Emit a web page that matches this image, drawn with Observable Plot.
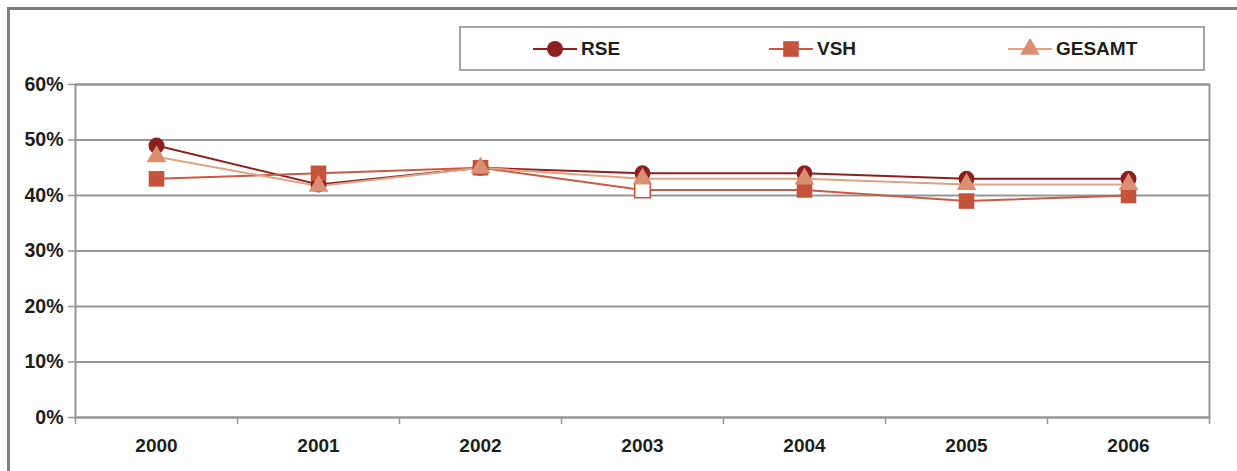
<!DOCTYPE html>
<html>
<head>
<meta charset="utf-8">
<script src="https://cdn.jsdelivr.net/npm/d3@7"></script>
<script src="https://cdn.jsdelivr.net/npm/@observablehq/plot@0.6"></script>
<style>
  body { margin: 0; background: #fff; font-family: "Liberation Sans", Arial, sans-serif; }
  #wrap { position: relative; width: 1237px; height: 471px; overflow: hidden; }
  #border { position: absolute; left: 7px; top: 7px; width: 1300px; height: 600px;
            border-left: 3px solid #7f7f7f; border-top: 3px solid #7f7f7f; pointer-events: none; z-index: 2; }
  #header { position: relative; height: 70px; }
  #legend { position: absolute; left: 459px; top: 26px; width: 746px; height: 45px; box-sizing: border-box;
            border: 2px solid #a6a6a6; }
  .item { position: absolute; top: 0; height: 41px; display: flex; align-items: center; }
  .item span { font-weight: bold; font-size: 19px; color: #1e1e1e; margin-left: 4px; }
  #chart svg { display: block; }
</style>
</head>
<body>
<div id="wrap">
  <div id="border"></div>
  <div id="header"><div id="legend"></div></div>
  <div id="chart"></div>
</div>
<script>
// ---- data ----
const years = [2000, 2001, 2002, 2003, 2004, 2005, 2006];
const seriesNames = ["RSE", "VSH", "GESAMT"];
const rse    = [0.49, 0.42, 0.45, 0.44, 0.44, 0.43, 0.43];
const vsh    = [0.43, 0.44, 0.45, 0.41, 0.41, 0.39, 0.40];
const gesamt = [0.47, 0.417, 0.45, 0.43, 0.43, 0.42, 0.42];
const yTicks = [0, 0.1, 0.2, 0.3, 0.4, 0.5, 0.6];

// ---- styles ----
const styles = {
  RSE:    {marker: "#8e1f1f", line: "#8e1f1f", symbol: "circle",   r: 8},
  VSH:    {marker: "#c5523b", line: "#c95a43", symbol: "square",   r: 8.8},
  GESAMT: {marker: "#da8f72", line: "#e2a183", symbol: "triangle", r: 7.3}
};
const hollowVSHYear = 2003;

const valuesBySeries = {RSE: rse, VSH: vsh, GESAMT: gesamt};
const rows = seriesNames.flatMap(s => years.map((y, i) => ({series: s, year: y, value: valuesBySeries[s][i]})));

const bounds = [...years.map(y => y - 0.5), years[years.length - 1] + 0.5];
const gray = "#969696";

const marks = [
  Plot.gridY(yTicks, {stroke: gray, strokeOpacity: 1, strokeWidth: 2}),
  Plot.frame({stroke: gray, strokeWidth: 2}),
  Plot.axisY(yTicks, {tickFormat: d => Math.round(d * 100) + "%", tickSize: 7, tickPadding: 5,
    stroke: gray, strokeWidth: 1.5, fontSize: 19.5, fontWeight: "bold", fill: "#1e1e1e", label: null}),
  Plot.axisX(bounds, {tickFormat: () => "", tickSize: 7, stroke: gray, strokeWidth: 1.5, label: null}),
  Plot.axisX(years, {tickSize: 0, tickPadding: 21, tickFormat: d => String(d),
    fontSize: 19, fontWeight: "bold", fill: "#1e1e1e", label: null})
];
for (const s of seriesNames) {
  marks.push(Plot.line(rows.filter(d => d.series === s), {x: "year", y: "value", stroke: styles[s].line, strokeWidth: 2}));
}
for (const s of seriesNames) {
  const st = styles[s];
  marks.push(Plot.dot(rows.filter(d => d.series === s), {
    x: "year", y: "value", symbol: st.symbol, r: st.r,
    fill: d => (s === "VSH" && d.year === hollowVSHYear) ? "#ffffff" : st.marker,
    stroke: d => (s === "VSH" && d.year === hollowVSHYear) ? st.marker : "none",
    strokeWidth: 1.5
  }));
}

const chart = Plot.plot({
  width: 1237, height: 401,
  marginLeft: 75, marginRight: 28, marginTop: 14, marginBottom: 54,
  style: {background: "#fff", fontFamily: "Liberation Sans, Arial, sans-serif", overflow: "visible"},
  x: {type: "linear", domain: [bounds[0], bounds[bounds.length - 1]]},
  y: {domain: [0, 0.6]},
  fill: {type: "identity"},
  stroke: {type: "identity"},
  marks
});
document.getElementById("chart").appendChild(chart);

// ---- legend ----
const legend = document.getElementById("legend");
const legendLeft = {RSE: 72, VSH: 308, GESAMT: 547};
const symPaths = {circle: d3.symbolCircle, square: d3.symbolSquare, triangle: d3.symbolTriangle};
for (const s of seriesNames) {
  const st = styles[s];
  const item = document.createElement("div");
  item.className = "item";
  item.style.left = legendLeft[s] + "px";
  const size = Math.PI * st.r * st.r;
  const path = d3.symbol(symPaths[st.symbol], size)();
  item.innerHTML = `<svg width="44" height="20" viewBox="-22 -10 44 20">
      <line x1="-22" x2="22" y1="0" y2="0" stroke="${st.line}" stroke-width="2"/>
      <path d="${path}" fill="${st.marker}"/></svg><span>${s}</span>`;
  legend.appendChild(item);
}
</script>
</body>
</html>
